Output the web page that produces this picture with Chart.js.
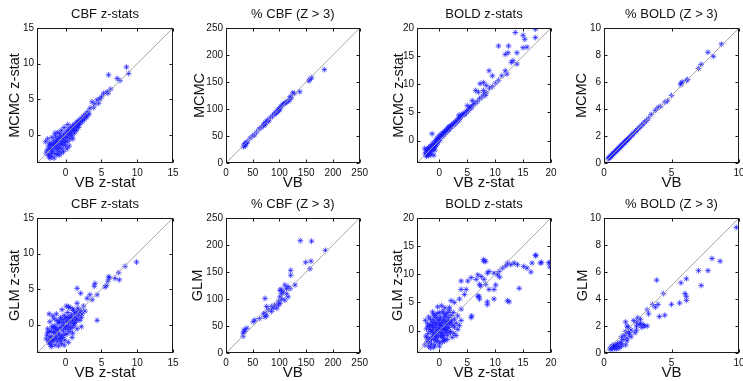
<!DOCTYPE html>
<html>
<head>
<meta charset="utf-8">
<script src="https://cdn.jsdelivr.net/npm/chart.js@4.4.0/dist/chart.umd.min.js"></script>
<style>
html, body { margin: 0; padding: 0; background: #fff; overflow: hidden; }
#wrap { position: relative; width: 743px; height: 381px; overflow: hidden; }
canvas { position: absolute; }
</style>
</head>
<body>
<div id="wrap"></div>
<script>
// ── axis ranges and tick labels ──────────────────────────────────────────
var cbfZRange     = [-4, 15];
var boldZRange    = [-4, 20];
var pctCbfRange   = [0, 250];
var pctBoldRange  = [0, 10];

var cbfZTicks     = [0, 5, 10, 15];
var boldZTicks    = [0, 5, 10, 15, 20];
var pctCbfTicks   = [0, 50, 100, 150, 200, 250];
var pctBoldXTicks = [0, 5, 10];
var pctBoldYTicks = [0, 2, 4, 6, 8, 10];

// ── series: [VB, other] pairs ────────────────────────────────────────────
var cbfMcmc = [
  [-2.6,-2.2],[-2.4,-1.6],[-2.3,-2.8],[-2.2,-1.2],[-2.1,-2.0],[-2.0,-3.1],[-1.9,-1.5],[-1.8,-2.4],
  [-1.7,-0.9],[-1.6,-1.8],[-1.5,-2.7],[-1.4,-1.2],[-1.3,-2.1],[-1.2,-0.6],[-1.1,-1.5],[-1.0,-2.4],
  [-0.9,-0.9],[-0.8,-1.9],[-0.7,-0.3],[-0.6,-1.2],[-0.5,-2.0],[-0.4,-0.6],[-0.3,-1.4],[-0.2,0.1],
  [-0.1,-0.8],[0.0,-1.6],[0.1,0.4],[0.2,-0.3],[0.3,-1.0],[0.4,0.7],[0.5,0.0],[0.6,-0.6],
  [0.7,1.0],[0.8,0.4],[0.9,-0.2],[1.0,1.3],[1.1,0.7],[1.2,0.2],[1.3,1.5],[1.4,1.0],
  [1.5,0.6],[1.6,1.8],[1.7,1.3],[1.8,1.0],[1.9,2.0],[2.0,1.6],[2.2,2.3],[2.3,1.8],
  [2.5,2.6],[2.6,2.1],[2.8,2.9],[2.9,2.4],[3.1,3.2],[3.0,2.7],[-2.8,-1.0],[-2.5,-0.6],
  [-1.9,-0.4],[-1.5,0.2],[-1.1,0.3],[-0.6,0.6],[-0.2,1.0],[0.3,1.4],[-2.2,-3.3],[-1.6,-3.3],
  [-0.9,-2.9],[-0.3,-2.4],[0.5,-1.6],[1.0,-0.6],[-1.4,-0.2],[-0.8,0.1],[-2.0,-2.6],[-1.2,-1.0],
  [-2.3,-2.0],[-2.1,-1.4],[-1.9,-2.1],[-1.7,-1.3],[-1.5,-1.6],[-1.3,-0.9],[-1.1,-1.9],[-0.9,-0.5],
  [-0.7,-1.4],[-0.5,-0.9],[-0.3,-0.2],[-0.1,-1.1],[0.1,-0.4],[0.3,0.2],[0.5,0.6],[0.7,0.1],
  [0.9,0.8],[1.1,1.1],[1.3,0.6],[1.5,1.3],[1.7,1.7],[1.9,1.4],[2.1,2.0],[2.4,2.2],
  [2.7,2.6],[-2.7,-2.6],[-2.4,-3.0],[-1.2,-2.8],[-0.6,-2.6],[0.2,-2.0],
  [3.4,3.7],[3.7,4.6],[4.4,4.9],[4.6,4.4],[5.3,5.8],[5.8,6.0],[5.9,5.8],[6.0,8.4],
  [7.2,7.9],[7.6,7.6],[8.5,9.5],[8.8,8.6],[3.9,3.8],[4.1,4.3],[3.3,2.9],[5.0,5.3],
  [6.3,6.4],[4.8,5.0]
];

var cbfPctMcmc = [
  [33,30],[34,33],[35,35],[36,32],[37,36],[38,38],[40,39],[45,46],[50,50],[53,52],
  [57,57],[62,63],[66,66],[70,69],[71,72],[73,71],[74,75],[76,77],[78,79],[80,78],
  [83,84],[87,87],[90,90],[92,93],[94,92],[96,97],[98,96],[99,100],[100,98],[101,102],
  [103,105],[106,108],[108,110],[111,111],[113,113],[116,114],[119,117],[120,123],[122,121],
  [125,130],[128,129],[138,132],[155,152],[157,155],[160,158],[184,173]
];

var boldMcmc = [
  [-2.4,-2.1],[-2.2,-1.6],[-2.1,-2.5],[-2.0,-1.9],[-1.9,-1.3],[-1.8,-2.2],[-1.7,-1.6],[-1.6,-1.0],
  [-1.5,-1.9],[-1.4,-1.3],[-1.3,-0.7],[-1.2,-1.6],[-1.1,-1.0],[-1.0,-0.4],[-0.9,-1.2],[-0.8,-0.6],
  [-0.7,0.0],[-0.6,-0.8],[-0.5,-0.2],[-0.4,0.4],[-0.3,-0.4],[-0.2,0.2],[-0.1,0.8],[0.0,0.0],
  [0.2,0.6],[0.3,1.1],[0.5,0.7],[0.6,1.3],[0.8,1.0],[0.9,1.6],[1.1,1.3],[1.2,1.9],
  [1.4,1.6],[1.5,2.2],[1.7,1.9],[1.9,2.5],[2.0,2.2],[2.2,2.8],[2.4,2.6],[2.6,3.1],
  [2.8,2.9],[3.0,3.5],[3.2,3.3],[3.4,3.9],[3.6,3.7],[3.8,4.2],[4.1,4.4],[4.3,4.8],
  [4.6,4.7],[4.9,5.2],[5.2,5.3],[5.5,5.9],[5.8,6.0],[6.1,6.4],[6.4,6.6],[6.8,6.9],
  [7.2,7.4],[7.6,7.7],[8.0,8.2],[8.4,8.5],[9.0,9.3],[9.5,9.6],[10.1,10.2],[10.6,10.7],
  [11.2,11.5],[-2.3,-2.8],[-1.9,-2.7],[-2.6,-1.4],[-1.5,-2.5],[-0.8,-1.7],[-1.3,1.2],[-1.0,-2.6],
  [-2.5,-2.4],[-2.3,-1.8],[-2.2,-2.3],[-2.0,-1.5],[-1.8,-1.8],[-1.7,-2.4],[-1.6,-1.4],[-1.4,-1.7],
  [-1.3,-1.1],[-1.1,-1.4],[-0.9,-0.8],[-0.7,-1.0],[-0.5,-0.5],[-0.3,0.0],[-0.1,0.3],[0.1,0.3],
  [0.4,0.9],[0.7,1.1],[1.0,1.5],[1.3,1.7],[1.6,2.0],[1.8,2.2],[2.1,2.5],[2.5,2.9],
  [2.9,3.2],[3.3,3.6],[3.7,4.0],[4.0,4.6],[4.4,4.6],[4.8,5.0],[5.3,5.6],[5.7,5.8],
  [1.7,2.4],[3.5,4.5],[5.0,6.2],[5.9,7.1],[6.5,8.9],[7.0,8.6],[7.3,10.1],[7.9,10.3],
  [8.4,9.8],[7.9,8.9],[8.2,8.0],[8.9,12.4],[9.5,11.5],[11.8,12.4],[12.1,11.8],[10.6,16.8],
  [12.4,16.8],[11.8,15.3],[12.3,15.6],[13.9,15.6],[15.0,16.5],[15.7,16.6],[12.9,13.9],[13.2,14.2],
  [13.9,13.6],[13.6,19.2],[15.0,18.7],[17.2,19.8],[17.2,18.3],[15.3,18.0]
];

var boldPctMcmc = [
  [0.30,0.30],[0.36,0.40],[0.41,0.38],[0.46,0.48],[0.52,0.50],[0.56,0.57],[0.61,0.59],[0.66,0.67],
  [0.71,0.72],[0.76,0.74],[0.81,0.82],[0.86,0.87],[0.91,0.90],[0.96,0.95],[1.02,1.01],[1.06,1.07],
  [1.11,1.10],[1.16,1.14],[1.21,1.22],[1.26,1.27],[1.31,1.30],[1.36,1.35],[1.42,1.41],[1.47,1.48],
  [1.52,1.51],[1.57,1.55],[1.62,1.63],[1.67,1.68],[1.73,1.71],[1.78,1.77],[1.84,1.85],[1.92,1.91],
  [2.01,2.02],[2.08,2.07],[2.17,2.18],[2.26,2.25],[2.35,2.36],[2.44,2.43],[2.55,2.56],[2.66,2.65],
  [2.78,2.79],[2.90,2.89],[3.02,3.04],[3.15,3.14],[3.3,3.32],[3.5,3.6],[3.8,3.9],[4.0,4.1],
  [4.2,4.2],[4.5,4.5],[4.7,4.6],[5.0,5.0],[5.7,5.8],[5.8,6.0],[5.7,5.9],[6.1,6.1],
  [6.2,6.2],[7.0,7.0],[7.2,7.3],[7.7,8.2],[8.1,7.9],[8.7,8.8]
];

var cbfGlm = [
  [-2.6,-1.5],[-2.5,-0.6],[-2.4,-2.3],[-2.3,-1.0],[-2.2,0.4],[-2.1,-2.8],[-2.0,-1.7],[-1.9,-0.3],
  [-1.8,-2.2],[-1.7,-1.1],[-1.6,0.8],[-1.5,-2.9],[-1.4,-1.6],[-1.3,-0.5],[-1.2,-2.4],[-1.1,0.2],
  [-1.0,-1.2],[-0.9,-2.0],[-0.8,-0.4],[-0.7,1.0],[-0.6,-2.7],[-0.5,-1.5],[-0.4,-0.1],[-0.3,-0.9],
  [-0.2,1.3],[-0.1,-2.2],[0.0,-0.5],[0.1,0.5],[0.2,-1.3],[0.3,1.7],[0.4,-0.2],[0.5,0.9],
  [0.6,-1.0],[0.7,0.2],[0.8,1.4],[0.9,-0.4],[1.0,0.6],[1.1,2.0],[1.2,-0.1],[1.3,1.1],
  [1.4,0.3],[1.5,1.7],[1.6,0.8],[1.7,2.3],[1.8,1.3],[2.0,0.6],[2.1,2.0],[2.3,1.5],
  [2.5,2.6],[2.7,1.9],[-2.7,-2.0],[-1.8,1.2],[-1.3,1.5],[-0.5,2.1],[0.1,2.6],[0.6,2.4],
  [-1.0,-3.0],[-0.2,-2.9],[0.4,-2.5],[0.9,-1.8],[1.6,-0.6],[2.2,-0.3],[-2.3,1.5],[-1.6,-0.2],
  [-0.9,0.5],[-0.1,0.9],[0.3,-0.7],[1.0,-1.2],[-2.0,-3.1],[-0.6,-1.9],
  [-2.5,-1.1],[-2.3,-2.6],[-2.2,-1.8],[-2.0,-0.9],[-1.9,-2.4],[-1.7,-0.4],[-1.6,-2.1],[-1.5,-1.1],
  [-1.3,-1.9],[-1.2,0.6],[-1.1,-0.8],[-0.9,-1.5],[-0.8,0.3],[-0.7,-2.3],[-0.6,-0.6],[-0.5,0.7],
  [-0.4,-1.8],[-0.3,0.3],[-0.1,-1.4],[0.1,-0.1],[0.2,1.0],[0.4,0.4],[0.6,1.1],[0.7,-0.5],
  [0.9,0.9],[1.1,0.2],[1.3,1.6],[1.5,0.7],[1.9,1.8],[2.2,1.0],[-1.4,-0.6],[-0.2,-0.3],
  [9.9,8.8],[8.3,8.2],[7.4,7.3],[7.5,6.3],[6.1,6.6],[5.9,6.1],[5.5,5.3],[5.7,5.5],
  [4.1,5.8],[4.0,5.4],[4.4,4.2],[3.4,4.2],[1.6,5.1],[2.1,4.4],[3.0,3.7],[3.7,3.5],
  [4.4,0.6],[1.6,3.0],[0.4,2.5],[1.0,2.2],[6.9,6.5],[6.0,6.7]
];

var cbfPctGlm = [
  [139,208],[160,207],[186,190],[149,168],[159,170],[157,156],[121,153],[121,144],
  [113,119],[110,126],[116,123],[101,116],[104,110],[101,104],[107,113],[113,110],
  [129,126],[73,101],[76,86],[79,80],[85,86],[91,89],[88,83],[95,83],
  [101,92],[98,89],[73,74],[73,67],[76,69],[63,64],[54,61],[51,58],
  [32,31],[35,40],[39,46],[32,37],[34,43],[85,77],[110,98],[116,104],
  [98,96],[104,100],[70,72],[103,118],[120,119]
];

var boldGlm = [
  [-2.4,-1.0],[-2.3,0.3],[-2.2,-2.0],[-2.1,1.2],[-2.0,-0.5],[-1.9,-2.8],[-1.8,0.8],[-1.7,-1.5],
  [-1.6,2.0],[-1.5,-0.2],[-1.4,-2.4],[-1.3,1.5],[-1.2,-1.0],[-1.1,0.5],[-1.0,-3.0],[-0.9,2.6],
  [-0.8,-0.6],[-0.7,1.0],[-0.6,-1.9],[-0.5,0.0],[-0.4,3.0],[-0.3,-1.2],[-0.2,1.8],[-0.1,-0.3],
  [0.0,0.9],[0.1,-2.2],[0.2,2.4],[0.3,0.2],[0.4,-1.0],[0.5,1.4],[0.6,3.4],[0.7,-0.4],
  [0.8,0.7],[0.9,2.0],[1.0,-1.6],[1.1,1.1],[1.2,2.8],[1.3,0.0],[1.4,1.6],[1.5,-0.8],
  [1.6,2.3],[1.7,0.5],[1.8,3.6],[1.9,1.2],[2.0,-0.3],[2.1,2.7],[2.2,1.8],[2.4,0.9],
  [2.5,3.2],[2.7,2.0],[3.0,1.3],[-2.6,-2.6],[-1.9,2.4],[-1.2,3.3],[-0.3,4.2],[0.4,4.4],
  [1.0,4.0],[-2.5,1.8],[-1.6,-3.1],[-0.8,-2.6],[0.0,-2.8],[0.6,-2.0],[1.4,-1.6],[2.3,-1.2],
  [-1.0,1.9],[-0.5,2.3],[0.1,1.3],[0.8,-0.9],[-1.3,0.1],[-0.7,-1.2],[0.3,-0.4],[1.1,0.3],
  [2.6,-0.5],[3.3,0.2],
  [-2.2,-1.3],[-2.0,0.7],[-1.8,-2.0],[-1.7,0.2],[-1.5,1.0],[-1.4,-1.5],[-1.2,0.9],[-1.1,-0.4],
  [-0.9,-1.6],[-0.8,1.4],[-0.6,0.5],[-0.5,-0.8],[-0.4,1.3],[-0.2,-1.9],[-0.1,0.4],[0.1,2.0],
  [0.2,-0.9],[0.3,1.0],[0.5,0.4],[0.6,-1.3],[0.7,1.8],[0.9,0.2],[1.0,2.5],[1.2,-0.4],
  [1.3,1.3],[1.5,0.6],[1.7,1.7],[1.9,-0.2],[2.1,1.4],[0.0,3.2],[-1.0,2.9],[0.8,3.0],
  [17.2,13.3],[19.6,12.0],[18.1,12.0],[16.6,12.0],[15.7,11.1],[15.1,11.4],[14.0,11.7],[13.4,12.0],
  [12.8,11.7],[12.2,12.0],[11.9,11.5],[11.3,11.1],[10.7,10.5],[10.4,9.9],[9.8,10.2],[8.9,10.5],
  [8.6,10.2],[8.0,12.3],[7.5,9.6],[6.9,9.9],[6.6,9.1],[5.7,9.4],[3.9,8.8],[5.1,8.8],
  [8.0,9.1],[8.3,8.2],[7.2,8.2],[8.9,7.3],[9.8,5.6],[7.2,5.6],[6.9,6.1],[12.2,5.3],
  [4.8,7.3],[3.9,7.3],[4.5,6.4],[3.6,5.6],[2.7,5.0],[5.7,2.3],[3.9,1.8],[3.3,2.6],
  [3.6,0.9],[2.1,5.3],[1.8,4.1],[1.5,3.2],[3.9,3.8],[2.7,0.6],[3.0,-0.9],[0.9,-1.8],
  [12.5,5.1],[14.3,7.5],[16.4,10.4],[18.3,12.1],[19.8,12.1],[19.8,11.3],[17.3,13.4],[7.9,12.6],
  [8.3,12.3],[9.8,7.3],[10.1,8.1],[10.8,9.5],[7.4,7.9],[8.6,5.1],[8.6,4.6],[7.1,6.1],[5.8,2.6]
];

var boldPctGlm = [
  [9.8,9.3],[8.0,7.0],[8.6,6.8],[7.0,6.1],[7.7,6.1],[7.2,5.0],[6.1,5.5],[5.7,5.2],
  [6.1,4.2],[6.0,4.4],[6.1,3.9],[5.6,3.7],[5.0,3.6],[3.9,5.4],[4.4,4.4],[4.5,2.8],
  [4.1,2.7],[3.6,3.6],[3.8,3.4],[4.0,3.6],[3.3,2.9],[3.2,3.2],[2.7,2.5],[2.4,2.3],
  [2.7,2.2],[2.9,2.1],[3.2,2.0],[2.4,2.0],[1.6,2.3],[1.7,2.0],[2.0,1.7],[1.8,1.5],
  [2.3,1.5],[1.3,1.2],[1.7,0.9],[1.3,0.7],[1.1,0.5],[0.8,0.4],[0.6,0.25],[0.7,0.5],
  [0.45,0.3],[0.5,0.4],[0.6,0.5],[0.7,0.6],[0.8,0.45],[0.9,0.6],[1.0,0.7],[1.2,0.8],
  [1.4,1.0],[1.5,1.3],[1.6,1.6],[1.8,1.9],[1.9,1.4],[2.2,2.4],[2.5,2.6],[2.6,2.1],
  [2.8,1.9],[3.0,2.0],[2.4,1.7],[2.0,1.2],[1.7,1.1],[1.6,0.6],[1.3,0.5],[1.1,0.35],[0.9,0.3]
];

// ── panel layout ─────────────────────────────────────────────────────────
var FONT = '"Liberation Sans", Arial, Helvetica, sans-serif';
var panels = [
  { title: 'CBF z-stats',    xt: 'VB z-stat', yt: 'MCMC z-stat', pts: cbfMcmc,     xr: cbfZRange,    yr: cbfZRange,    xk: cbfZTicks,     yk: cbfZTicks,     box: [37, 28, 173, 163],  ypad: 9 },
  { title: '% CBF (Z > 3)',  xt: 'VB',        yt: 'MCMC',        pts: cbfPctMcmc,  xr: pctCbfRange,  yr: pctCbfRange,  xk: pctCbfTicks,   yk: pctCbfTicks,   box: [226, 28, 360, 163], ypad: 5 },
  { title: 'BOLD z-stats',   xt: 'VB z-stat', yt: 'MCMC z-stat', pts: boldMcmc,    xr: boldZRange,   yr: boldZRange,   xk: boldZTicks,    yk: boldZTicks,    box: [417, 28, 551, 163], ypad: 13 },
  { title: '% BOLD (Z > 3)', xt: 'VB',        yt: 'MCMC',        pts: boldPctMcmc, xr: pctBoldRange, yr: pctBoldRange, xk: pctBoldXTicks, yk: pctBoldYTicks, box: [604, 28, 739, 163], ypad: 9 },
  { title: 'CBF z-stats',    xt: 'VB z-stat', yt: 'GLM z-stat',  pts: cbfGlm,      xr: cbfZRange,    yr: cbfZRange,    xk: cbfZTicks,     yk: cbfZTicks,     box: [37, 218, 173, 353], ypad: 9 },
  { title: '% CBF (Z > 3)',  xt: 'VB',        yt: 'GLM',         pts: cbfPctGlm,   xr: pctCbfRange,  yr: pctCbfRange,  xk: pctCbfTicks,   yk: pctCbfTicks,   box: [226, 218, 360, 353], ypad: 3 },
  { title: 'BOLD z-stats',   xt: 'VB z-stat', yt: 'GLM z-stat',  pts: boldGlm,     xr: boldZRange,   yr: boldZRange,   xk: boldZTicks,    yk: boldZTicks,    box: [417, 218, 551, 353], ypad: 12 },
  { title: '% BOLD (Z > 3)', xt: 'VB',        yt: 'GLM',         pts: boldPctGlm,  xr: pctBoldRange, yr: pctBoldRange, xk: pctBoldXTicks, yk: pctBoldYTicks, box: [604, 218, 739, 353], ypad: 10 }
];

var L = 40, R = 12, T = 28, B = 32;

// matlab-style box with inward ticks on all four sides
var boxAxes = {
  id: 'boxAxes',
  afterDraw: function (chart) {
    var a = chart.chartArea, ctx = chart.ctx;
    var xs = chart.scales.x, ys = chart.scales.y;
    ctx.save();
    ctx.strokeStyle = '#1a1a1a';
    ctx.lineWidth = 1;
    var l = Math.round(a.left) + 0.5, r = Math.round(a.right) - 0.5;
    var t = Math.round(a.top) + 0.5, b = Math.round(a.bottom) - 0.5;
    ctx.strokeRect(l, t, r - l, b - t);
    ctx.beginPath();
    xs.ticks.forEach(function (tk) {
      var px = Math.round(xs.getPixelForValue(tk.value)) + 0.5;
      ctx.moveTo(px, b); ctx.lineTo(px, b - 3);
      ctx.moveTo(px, t); ctx.lineTo(px, t + 3);
    });
    ys.ticks.forEach(function (tk) {
      var py = Math.round(ys.getPixelForValue(tk.value)) + 0.5;
      ctx.moveTo(l, py); ctx.lineTo(l + 3, py);
      ctx.moveTo(r, py); ctx.lineTo(r - 3, py);
    });
    ctx.stroke();
    ctx.restore();
  }
};

var wrap = document.getElementById('wrap');

panels.forEach(function (p) {
  var c = document.createElement('canvas');
  var w = p.box[2] - p.box[0] + L + R;
  var h = p.box[3] - p.box[1] + T + B;
  c.width = w; c.height = h;
  c.style.width = w + 'px'; c.style.height = h + 'px';
  c.style.left = (p.box[0] - L) + 'px';
  c.style.top = (p.box[1] - T) + 'px';
  wrap.appendChild(c);

  var scaleOpts = function (range, ticks, titleText, isY) {
    return {
      type: 'linear',
      min: range[0],
      max: range[1],
      afterBuildTicks: function (s) { s.ticks = ticks.map(function (v) { return { value: v }; }); },
      afterFit: function (s) { if (isY) s.width = L; else s.height = B; },
      grid: { display: false, drawTicks: false },
      border: { display: false },
      ticks: { color: '#111', font: { family: FONT, size: 10 }, padding: isY ? 3 : 4, maxRotation: 0, autoSkip: false },
      title: {
        display: true, text: titleText, color: '#111',
        font: { family: FONT, size: isY ? 14.5 : 15 },
        padding: isY ? { top: p.ypad, bottom: 0 } : { top: 0, bottom: 3 }
      }
    };
  };

  new Chart(c, {
    type: 'scatter',
    data: {
      datasets: [{
        type: 'line',
        data: [{ x: p.xr[0], y: p.yr[0] }, { x: p.xr[1], y: p.yr[1] }],
        borderColor: '#a8a8a8',
        borderWidth: 1,
        pointRadius: 0,
        fill: false
      }, {
        data: p.pts.map(function (d) { return { x: d[0], y: d[1] }; }),
        pointStyle: 'star',
        pointRadius: 2.9,
        borderWidth: 1,
        borderColor: 'rgba(25,25,255,0.7)',
        backgroundColor: 'rgba(25,25,255,0.7)'
      }]
    },
    options: {
      responsive: false,
      devicePixelRatio: 1,
      animation: false,
      layout: { padding: { left: 0, right: R, top: 0, bottom: 0 } },
      plugins: {
        legend: { display: false },
        tooltip: { enabled: false },
        title: {
          display: true, fullSize: false, text: p.title, color: '#111',
          font: { family: FONT, size: 13, weight: 'normal' },
          padding: { top: 7, bottom: 5.4 }
        }
      },
      scales: {
        x: scaleOpts(p.xr, p.xk, p.xt, false),
        y: scaleOpts(p.yr, p.yk, p.yt, true)
      }
    },
    plugins: [boxAxes]
  });
});
</script>
</body>
</html>
